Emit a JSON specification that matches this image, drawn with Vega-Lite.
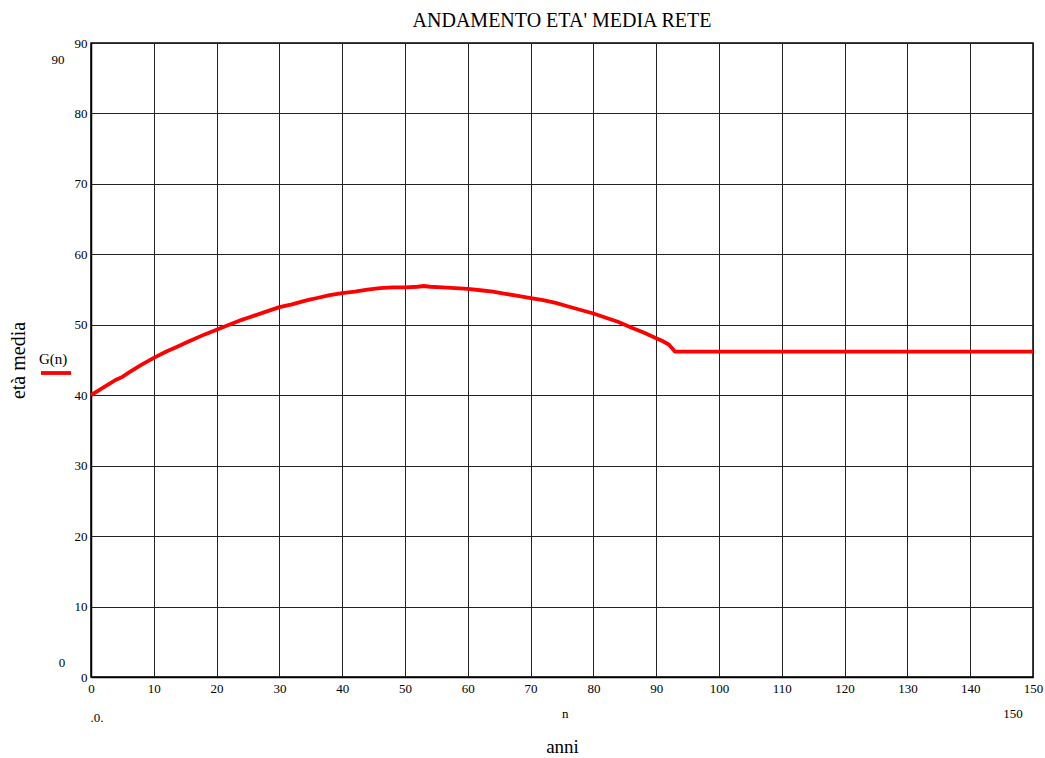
{
  "$schema": "https://vega.github.io/schema/vega-lite/v6.json",
  "autosize": {"type": "none"},
  "padding": {"left": 91, "top": 43, "right": 12, "bottom": 81},
  "width": 942,
  "height": 634,
  "background": "white",
  "title": {
    "text": "ANDAMENTO ETA' MEDIA RETE",
    "font": "Liberation Serif",
    "fontSize": 20,
    "fontWeight": "normal",
    "color": "black",
    "anchor": "middle",
    "offset": 6
  },
  "config": {
    "view": {"stroke": "black", "strokeWidth": 1.5},
    "axis": {
      "grid": true,
      "gridColor": "#222",
      "gridWidth": 1,
      "ticks": false,
      "domainColor": "black",
      "domainWidth": 1.5,
      "labelFont": "Liberation Serif",
      "labelFontSize": 13,
      "labelColor": "black",
      "labelFlush": false,
      "titleFont": "Liberation Serif",
      "titleFontWeight": "normal",
      "titleColor": "black"
    },
    "text": {"font": "Liberation Serif", "fontSize": 13, "color": "black"}
  },
  "layer": [
    {
      "data": {
        "values": [
          {"n": 0, "G": 40.0}, {"n": 2, "G": 41.1}, {"n": 4, "G": 42.2}, {"n": 5, "G": 42.6},
          {"n": 6, "G": 43.2}, {"n": 8, "G": 44.3}, {"n": 10, "G": 45.3}, {"n": 12, "G": 46.2},
          {"n": 14, "G": 47.0}, {"n": 15, "G": 47.4}, {"n": 16, "G": 47.8}, {"n": 18, "G": 48.6},
          {"n": 20, "G": 49.3}, {"n": 22, "G": 50.0}, {"n": 24, "G": 50.7}, {"n": 25, "G": 51.0},
          {"n": 26, "G": 51.3}, {"n": 28, "G": 51.9}, {"n": 30, "G": 52.5}, {"n": 32, "G": 52.9},
          {"n": 34, "G": 53.4}, {"n": 35, "G": 53.6}, {"n": 36, "G": 53.8}, {"n": 38, "G": 54.2},
          {"n": 40, "G": 54.5}, {"n": 42, "G": 54.7}, {"n": 44, "G": 55.0}, {"n": 45, "G": 55.1},
          {"n": 46, "G": 55.2}, {"n": 48, "G": 55.3}, {"n": 50, "G": 55.3}, {"n": 52, "G": 55.4},
          {"n": 53, "G": 55.5}, {"n": 54, "G": 55.4}, {"n": 56, "G": 55.3}, {"n": 58, "G": 55.2},
          {"n": 60, "G": 55.1}, {"n": 62, "G": 54.9}, {"n": 64, "G": 54.7}, {"n": 66, "G": 54.4},
          {"n": 68, "G": 54.1}, {"n": 70, "G": 53.8}, {"n": 72, "G": 53.5}, {"n": 74, "G": 53.1},
          {"n": 76, "G": 52.6}, {"n": 78, "G": 52.1}, {"n": 80, "G": 51.6}, {"n": 82, "G": 51.0},
          {"n": 84, "G": 50.4}, {"n": 86, "G": 49.6}, {"n": 88, "G": 48.9}, {"n": 90, "G": 48.1},
          {"n": 91, "G": 47.7}, {"n": 92, "G": 47.2}, {"n": 93, "G": 46.2}, {"n": 95, "G": 46.2},
          {"n": 100, "G": 46.2}, {"n": 110, "G": 46.2}, {"n": 120, "G": 46.2}, {"n": 130, "G": 46.2},
          {"n": 140, "G": 46.2}, {"n": 150, "G": 46.2}
        ]
      },
      "mark": {"type": "line", "strokeWidth": 3.8, "interpolate": "linear"},
      "encoding": {
        "x": {
          "field": "n", "type": "quantitative",
          "scale": {"domain": [0, 150], "nice": false, "zero": false},
          "axis": {
            "values": [0, 10, 20, 30, 40, 50, 60, 70, 80, 90, 100, 110, 120, 130, 140, 150],
            "labelPadding": 5,
            "title": "anni",
            "titleFontSize": 19,
            "titlePadding": 42
          }
        },
        "y": {
          "field": "G", "type": "quantitative",
          "scale": {"domain": [0, 90], "nice": false, "zero": false},
          "axis": {
            "values": [0, 10, 20, 30, 40, 50, 60, 70, 80, 90],
            "labelPadding": 4,
            "title": "età media",
            "titleFontSize": 20,
            "titlePadding": 46
          }
        },
        "color": {
          "datum": "G(n)",
          "scale": {"range": ["#ff0000"]},
          "legend": {
            "orient": "none",
            "legendX": -52,
            "legendY": 309,
            "title": "G(n)",
            "titleFont": "Liberation Serif",
            "titleFontSize": 15,
            "titleFontWeight": "normal",
            "titleColor": "black",
            "titlePadding": -11,
            "labelExpr": "''",
            "symbolType": "stroke",
            "symbolStrokeWidth": 3.8,
            "symbolSize": 900
          }
        }
      }
    },
    {
      "data": {"values": [{}]},
      "mark": {"type": "text", "align": "center", "baseline": "middle"},
      "encoding": {"x": {"datum": -5.25}, "y": {"datum": 87.6}, "text": {"value": "90"}}
    },
    {
      "data": {"values": [{}]},
      "mark": {"type": "text", "align": "center", "baseline": "middle"},
      "encoding": {"x": {"datum": -4.6}, "y": {"datum": 2.0}, "text": {"value": "0"}}
    },
    {
      "data": {"values": [{}]},
      "mark": {"type": "text", "align": "center", "baseline": "middle"},
      "encoding": {"x": {"datum": 0.95}, "y": {"datum": -5.8}, "text": {"value": ".0."}}
    },
    {
      "data": {"values": [{}]},
      "mark": {"type": "text", "align": "center", "baseline": "middle"},
      "encoding": {"x": {"datum": 75.5}, "y": {"datum": -5.3}, "text": {"value": "n"}}
    },
    {
      "data": {"values": [{}]},
      "mark": {"type": "text", "align": "center", "baseline": "middle"},
      "encoding": {"x": {"datum": 146.8}, "y": {"datum": -5.3}, "text": {"value": "150"}}
    }
  ]
}
